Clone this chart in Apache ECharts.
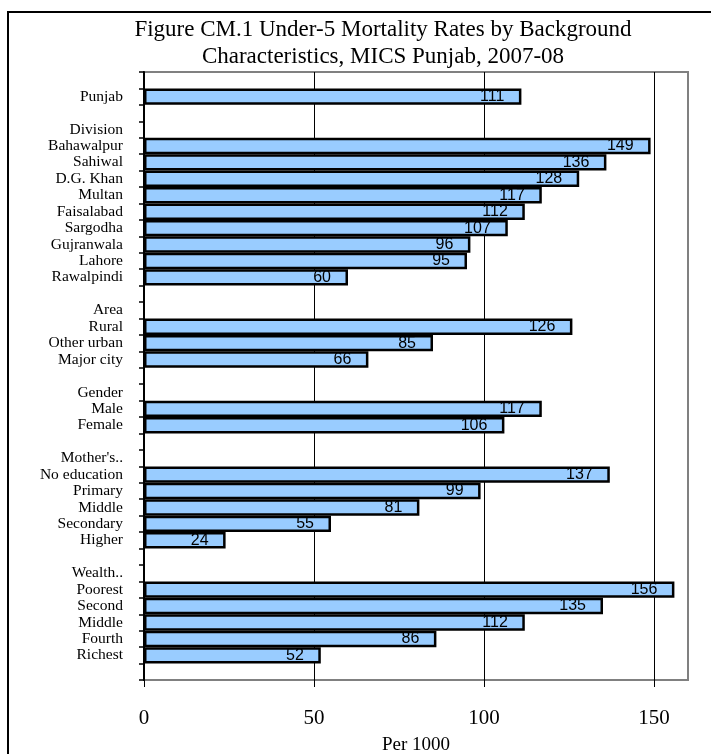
<!DOCTYPE html>
<html>
<head>
<meta charset="utf-8">
<title>Under-5 Mortality Rates, MICS Punjab 2007-08</title>
<script src="https://cdn.jsdelivr.net/npm/echarts@6/dist/echarts.min.js"></script>
<style>
  html, body { margin: 0; padding: 0; background: #fff; }
  #chart { width: 711px; height: 754px; }
</style>
</head>
<body>
<div id="chart"></div>
<script>
// Under-5 mortality per 1000 live births, grouped by background characteristic
const punjabLabels = ['Punjab'];
const punjabValues = [111];

const divisionLabels = ['Bahawalpur', 'Sahiwal', 'D.G. Khan', 'Multan', 'Faisalabad', 'Sargodha', 'Gujranwala', 'Lahore', 'Rawalpindi'];
const divisionValues = [149, 136, 128, 117, 112, 107, 96, 95, 60];

const areaLabels = ['Rural', 'Other urban', 'Major city'];
const areaValues = [126, 85, 66];

const genderLabels = ['Male', 'Female'];
const genderValues = [117, 106];

const educationLabels = ['No education', 'Primary', 'Middle', 'Secondary', 'Higher'];
const educationValues = [137, 99, 81, 55, 24];

const wealthLabels = ['Poorest', 'Second', 'Middle', 'Fourth', 'Richest'];
const wealthValues = [156, 135, 112, 86, 52];

const xTicks = [0, 50, 100, 150];

// Assemble the rows top to bottom: blank spacer rows and group headings carry no bar
const groups = [
  { heading: 'Division', labels: divisionLabels, values: divisionValues },
  { heading: 'Area', labels: areaLabels, values: areaValues },
  { heading: 'Gender', labels: genderLabels, values: genderValues },
  { heading: "Mother's..", labels: educationLabels, values: educationValues },
  { heading: 'Wealth..', labels: wealthLabels, values: wealthValues }
];

const categories = [''];
const values = [null];
punjabLabels.forEach((l, i) => { categories.push(l); values.push(punjabValues[i]); });
groups.forEach(g => {
  categories.push(''); values.push(null);
  categories.push(g.heading); values.push(null);
  g.labels.forEach((l, i) => { categories.push(l); values.push(g.values[i]); });
});
categories.push(''); values.push(null);

const serif = '"Liberation Serif", "Times New Roman", serif';
const sans = '"Liberation Sans", Arial, sans-serif';

const chart = echarts.init(document.getElementById('chart'), null, { renderer: 'canvas' });

chart.setOption({
  animation: false,
  backgroundColor: '#ffffff',
  grid: {
    left: 144, right: 23, top: 72, bottom: 74,
    outerBoundsMode: 'none',
    containLabel: false,
    show: true, borderColor: '#808080', borderWidth: 2, backgroundColor: 'transparent'
  },
  graphic: [
    {
      type: 'rect', silent: true,
      shape: { x: 8, y: 12, width: 720, height: 760 },
      style: { fill: null, stroke: '#000', lineWidth: 2 }
    },
    {
      type: 'text', x: 383, y: 30, silent: true,
      style: { text: 'Figure CM.1 Under-5 Mortality Rates by Background', align: 'center', verticalAlign: 'middle',
               font: '23px ' + serif, fill: '#000' }
    },
    {
      type: 'text', x: 383, y: 57, silent: true,
      style: { text: 'Characteristics, MICS Punjab, 2007-08', align: 'center', verticalAlign: 'middle',
               font: '23px ' + serif, fill: '#000' }
    }
  ],
  xAxis: {
    type: 'value',
    min: 0, max: 160, interval: 50,
    name: 'Per 1000',
    nameLocation: 'middle',
    nameGap: 56,
    nameTextStyle: { fontFamily: serif, fontSize: 19, color: '#000' },
    axisLine: { show: false },
    axisTick: { show: true, customValues: xTicks, length: 7, inside: false, lineStyle: { color: '#000', width: 1 } },
    axisLabel: { customValues: xTicks, margin: 28, fontFamily: serif, fontSize: 21, color: '#000' },
    splitLine: { show: true, lineStyle: { color: '#000', width: 1 } }
  },
  yAxis: {
    type: 'category',
    inverse: true,
    data: categories,
    axisLine: { show: true, lineStyle: { color: '#000', width: 2 } },
    axisTick: { show: true, alignWithLabel: false, length: 5, interval: 0, lineStyle: { color: '#000', width: 1.5 } },
    axisLabel: { interval: 0, margin: 21, fontFamily: serif, fontSize: 15.5, color: '#000' },
    splitLine: { show: false }
  },
  series: [{
    type: 'bar',
    data: values,
    barCategoryGap: '0%',
    itemStyle: { color: '#99ccff', borderColor: '#000', borderWidth: 2.5 },
    label: {
      show: true, position: 'insideRight', distance: 17,
      fontFamily: sans, fontSize: 16, color: '#000'
    }
  }]
});
</script>
</body>
</html>
